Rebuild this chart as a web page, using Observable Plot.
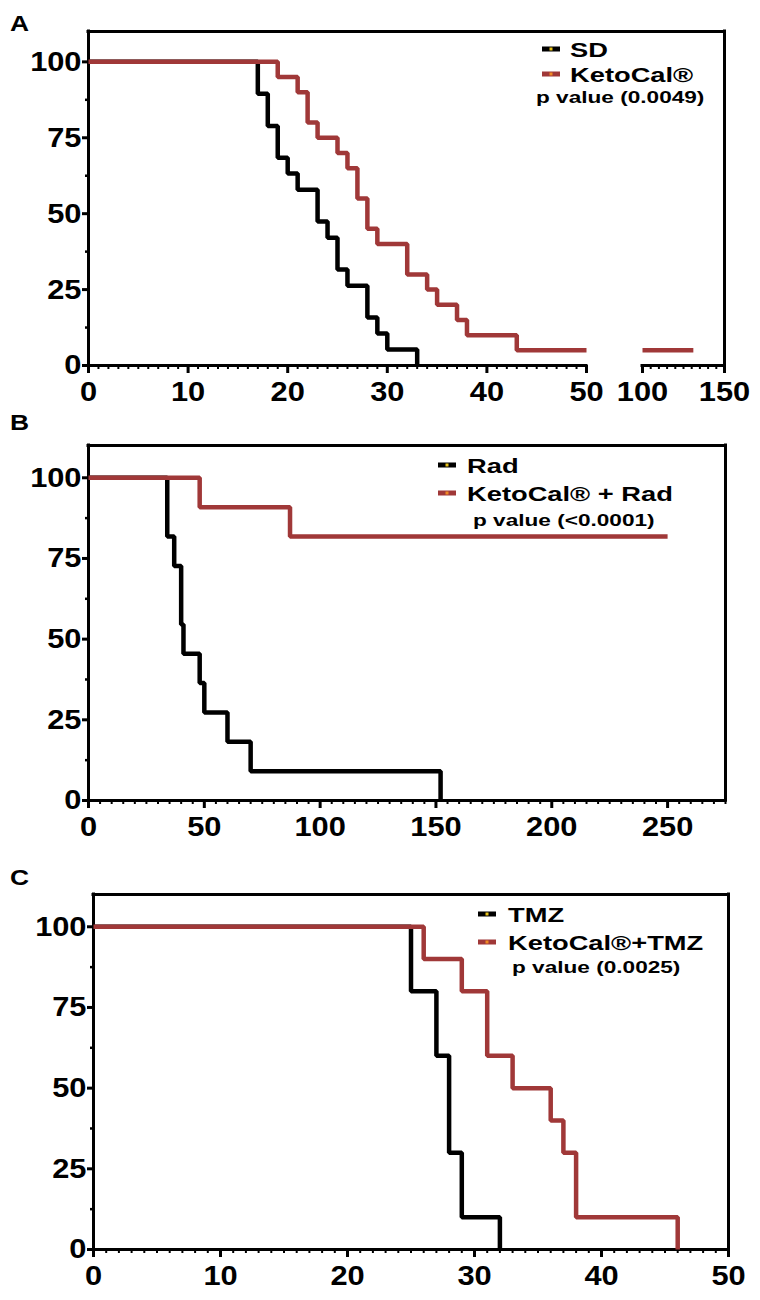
<!DOCTYPE html>
<html>
<head>
<meta charset="utf-8">
<script src="https://cdn.jsdelivr.net/npm/d3@7"></script>
<script src="https://cdn.jsdelivr.net/npm/@observablehq/plot@0.6"></script>
<style>
  body { margin: 0; background: #fff; }
  #chart { width: 760px; }
  #chart svg { display: block; }
</style>
</head>
<body>
<div id="chart"></div>
<script>
// ---------- Data ----------
// Panel A
const sdTime   = [0, 17, 18, 19, 20, 21, 23, 24, 25, 26, 28, 29, 30, 33];
const sdSurv   = [100, 89.5, 78.9, 68.4, 63.2, 57.9, 47.4, 42.1, 31.6, 26.3, 15.8, 10.5, 5.3, 0];
const ketoTime = [0, 19, 21, 22, 23, 25, 26, 27, 28, 29, 32, 34, 35, 37, 38, 43, 50];
const ketoSurv = [100, 95, 90, 80, 75, 70, 65, 55, 45, 40, 30, 25, 20, 15, 10, 5, 5];
const ketoTailTime = [100, 131];
const ketoTailSurv = [5, 5];
const legendA = ["SD", "KetoCal®"];
const pValueA = "p value (0.0049)";
const xTicksA = [0, 10, 20, 30, 40, 50, 100, 150];
const xMinorA1 = d3.range(1, 50).filter(d => d % 10 !== 0);
const xMinorA2 = [105, 110, 115, 120, 125, 130, 135, 140, 145];

// Panel B
const radTime     = [0, 34, 37, 40, 41, 48, 50, 60, 70, 152];
const radSurv     = [100, 81.8, 72.7, 54.5, 45.5, 36.4, 27.3, 18.2, 9.1, 0];
const ketoRadTime = [0, 48, 87, 250];
const ketoRadSurv = [100, 90.9, 81.8, 81.8];
const legendB = ["Rad", "KetoCal® + Rad"];
const pValueB = "p value (<0.0001)";
const xTicksB = [0, 50, 100, 150, 200, 250];
const xMinorB = d3.range(5, 276, 5).filter(d => d % 50 !== 0);

// Panel C
const tmzTime     = [0, 25, 27, 28, 29, 32];
const tmzSurv     = [100, 80, 60, 30, 10, 0];
const ketoTmzTime = [0, 26, 29, 31, 33, 36, 37, 38, 46];
const ketoTmzSurv = [100, 90, 80, 60, 50, 40, 30, 10, 0];
const legendC = ["TMZ", "KetoCal®+TMZ"];
const pValueC = "p value (0.0025)";
const xTicksC = [0, 10, 20, 30, 40, 50];
const xMinorC = d3.range(1, 50).filter(d => d % 10 !== 0);

const yTicks = [0, 25, 50, 75, 100];
const yMinor = [12.5, 37.5, 62.5, 87.5];
const yDomain = [0, 110];

// ---------- Styling ----------
const FONT = "'Liberation Sans', Arial, Helvetica, sans-serif";
const BLACK = "#000000";
const RED = "#a03838";
const CURVE_W = 4.5;
const AXIS_W = 3;

function series(times, surv, seg) {
  return times.map((t, i) => ({t, s: surv[i], seg}));
}

// Panel letter + legend drawn as a render-function mark (layout only)
function decorations({letter, letterY, symX, textX, rowY, labels, pText, pX, pY}) {
  return () => {
    const g = d3.create("svg:g")
      .attr("font-family", FONT).attr("font-weight", "bold")
      .attr("fill", BLACK).attr("text-anchor", "start");
    g.append("text")
      .attr("text-anchor", "start")
      .attr("transform", `translate(10,${letterY}) scale(1.2,1)`)
      .attr("font-size", 22)
      .text(letter);
    const colors = [BLACK, RED];
    const dots = ["#e8c21a", "#f08a24"];
    labels.forEach((lab, i) => {
      const cy = rowY[i] - 8;
      g.append("rect").attr("x", symX).attr("y", cy - 2.5).attr("width", 18).attr("height", 5).attr("fill", colors[i]);
      g.append("rect").attr("x", symX + 7.5).attr("y", cy - 1.5).attr("width", 3).attr("height", 3).attr("fill", dots[i]);
      g.append("text")
        .attr("text-anchor", "start")
        .attr("transform", `translate(${textX},${rowY[i]}) scale(1.3,1)`)
        .attr("font-size", 21)
        .text(lab);
    });
    g.append("text")
      .attr("text-anchor", "start")
      .attr("transform", `translate(${pX},${pY}) scale(1.33,1)`)
      .attr("font-size", 17)
      .text(pText);
    return g.node();
  };
}

function axes({xTicks, xMinor, xMax, bottomSegs}) {
  const common = {fontFamily: FONT, fontWeight: "bold", fontSize: 28, stroke: BLACK, color: BLACK};
  const rule = {stroke: BLACK, strokeWidth: AXIS_W, strokeLinecap: "square"};
  const marks = [
    Plot.axisY(yTicks, {...common, tickSize: 6, tickPadding: 1, strokeWidth: AXIS_W}),
    Plot.axisY(yMinor, {tickSize: 3, strokeWidth: 2.5, tickFormat: () => ""}),
    Plot.axisX(xTicks, {...common, tickSize: 8, tickPadding: 8, strokeWidth: AXIS_W}),
    Plot.axisX(xMinor, {tickSize: 4, strokeWidth: 2, tickFormat: () => ""}),
    Plot.ruleX([0], {y1: yDomain[0], y2: yDomain[1], ...rule}),
    Plot.ruleX([xMax], {y1: yDomain[0], y2: yDomain[1], ...rule}),
    Plot.ruleY([yDomain[1]], {x1: 0, x2: xMax, ...rule})
  ];
  bottomSegs.forEach(([a, b]) => marks.push(Plot.ruleY([0], {x1: a, x2: b, ...rule})));
  return marks;
}

function curve(data, color) {
  return Plot.line(data, {x: "t", y: "s", z: "seg", curve: "step-after", stroke: color,
    strokeWidth: CURVE_W, strokeLinejoin: "miter", strokeLinecap: "butt"});
}

// widen the tick labels slightly, like the reference's stretched type
function widenTickLabels(svg) {
  d3.select(svg).selectAll('g[aria-label$="tick label"] text').each(function () {
    const t = this.getAttribute("transform") || "";
    this.setAttribute("transform", t + " scale(1.1,1)");
  });
  return svg;
}

const chart = document.getElementById("chart");
const baseStyle = {fontFamily: FONT, fontWeight: "bold", fontSize: "28px", color: BLACK, background: "#fff", overflow: "visible"};

// ---------- Panel A (broken x axis) ----------
chart.appendChild(widenTickLabels(Plot.plot({
  width: 760, height: 400,
  marginLeft: 88, marginRight: 36, marginTop: 31, marginBottom: 35,
  style: baseStyle,
  x: {type: "linear", domain: [0, 50, 100, 150], range: [88, 586, 642, 724], label: null},
  y: {domain: yDomain, label: null},
  marks: [
    ...axes({xTicks: xTicksA, xMinor: [...xMinorA1, ...xMinorA2], xMax: 150, bottomSegs: [[0, 50], [100, 150]]}),
    curve(series(sdTime, sdSurv, "sd"), BLACK),
    curve([...series(ketoTime, ketoSurv, "a"), ...series(ketoTailTime, ketoTailSurv, "b")], RED),
    decorations({letter: "A", letterY: 31, symX: 542, textX: 570, rowY: [57, 82],
      labels: legendA, pText: pValueA, pX: 536, pY: 103})
  ]
})));

// ---------- Panel B ----------
chart.appendChild(widenTickLabels(Plot.plot({
  width: 760, height: 440,
  marginLeft: 88, marginRight: 35, marginTop: 45, marginBottom: 40,
  style: baseStyle,
  x: {domain: [0, 275], label: null},
  y: {domain: yDomain, label: null},
  marks: [
    ...axes({xTicks: xTicksB, xMinor: xMinorB, xMax: 275, bottomSegs: [[0, 275]]}),
    curve(series(radTime, radSurv, "rad"), BLACK),
    curve(series(ketoRadTime, ketoRadSurv, "krad"), RED),
    decorations({letter: "B", letterY: 30, symX: 438, textX: 467, rowY: [73, 101],
      labels: legendB, pText: pValueB, pX: 473, pY: 126})
  ]
})));

// ---------- Panel C ----------
chart.appendChild(widenTickLabels(Plot.plot({
  width: 760, height: 460,
  marginLeft: 93, marginRight: 32, marginTop: 54, marginBottom: 51,
  style: baseStyle,
  x: {domain: [0, 50], label: null},
  y: {domain: yDomain, label: null},
  marks: [
    ...axes({xTicks: xTicksC, xMinor: xMinorC, xMax: 50, bottomSegs: [[0, 50]]}),
    curve(series(tmzTime, tmzSurv, "tmz"), BLACK),
    curve(series(ketoTmzTime, ketoTmzSurv, "ktmz"), RED),
    decorations({letter: "C", letterY: 45, symX: 478, textX: 508, rowY: [82, 110],
      labels: legendC, pText: pValueC, pX: 512, pY: 133})
  ]
})));
</script>
</body>
</html>
